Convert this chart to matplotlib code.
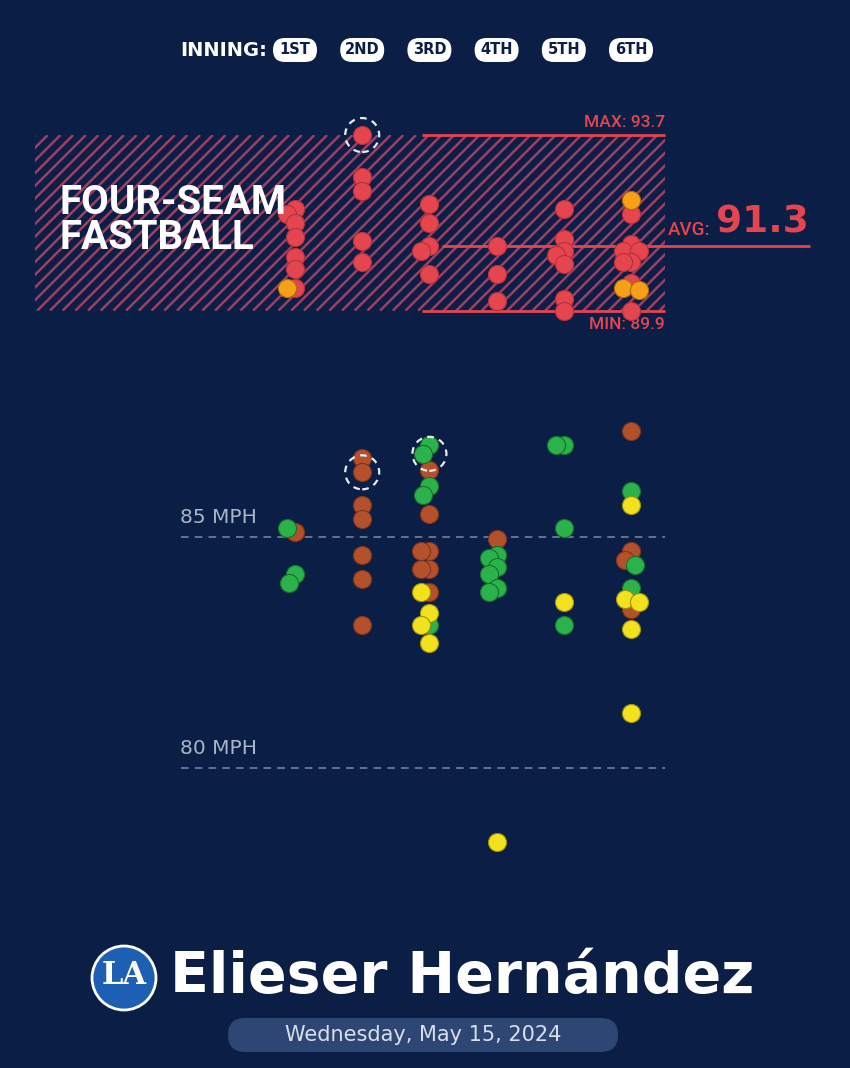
import numpy as np
import matplotlib
matplotlib.use("Agg")
import matplotlib.pyplot as plt
from matplotlib import patches
from matplotlib.transforms import IdentityTransform
from matplotlib.collections import LineCollection

INNING_LABELS = ["1ST", "2ND", "3RD", "4TH", "5TH", "6TH"]

# four-seam fastballs
red_inning = [1, 1, 1, 1, 1, 1, 1,
              2, 2, 2, 2, 2,
              3, 3, 3, 3, 3,
              4, 4, 4,
              5, 5, 5, 5, 5, 5, 5,
              6, 6, 6, 6, 6, 6, 6, 6]
red_mph = [92.1, 92.0, 91.8, 91.5, 91.05, 90.8, 90.4,
           93.7, 92.8, 92.5, 91.4, 90.95,
           92.2, 91.8, 91.3, 91.2, 90.7,
           91.3, 90.7, 90.1,
           92.1, 91.45, 91.2, 91.1, 90.9, 90.15, 89.9,
           92.0, 91.35, 91.2, 91.2, 90.95, 90.95, 90.5, 89.9]

orange_inning = [1, 6, 6, 6]
orange_mph = [90.4, 92.3, 90.4, 90.35]

# other pitches
brown_inning = [1,
                2, 2, 2, 2, 2, 2, 2,
                3, 3, 3, 3, 3, 3, 3,
                4,
                6, 6, 6, 6]
brown_mph = [85.1,
             86.7, 86.4, 85.7, 85.4, 84.6, 84.1, 83.1,
             86.45, 85.5, 84.7, 84.7, 84.3, 84.3, 83.8,
             84.95,
             87.3, 84.7, 84.5, 83.45]

green_inning = [1, 1, 1,
                3, 3, 3, 3, 3,
                4, 4, 4, 4, 4, 4,
                5, 5, 5, 5,
                6, 6, 6]
green_mph = [85.2, 84.2, 84.0,
             87.0, 86.8, 86.1, 85.9, 83.1,
             84.6, 84.55, 84.35, 84.2, 83.9, 83.8,
             87.0, 87.0, 85.2, 83.1,
             86.0, 84.4, 83.9]

yellow_inning = [3, 3, 3, 3,
                 4,
                 5,
                 6, 6, 6, 6, 6]
yellow_mph = [83.8, 83.35, 83.1, 82.7,
              78.4,
              83.6,
              85.7, 83.65, 83.6, 83.0, 81.2]

ff_max = 93.7
ff_min = 89.9
ff_avg = 91.3

# highlighted pitches (inning, mph)
hl_inning = [2, 2, 3]
hl_mph = [93.7, 86.4, 86.8]

ref_lines = [85, 80]

# colours
BG = "#0b1e45"
RED = "#e5454f"
HATCH = "#c4476a"
GRID = "#7d8aa5"
LABEL = "#aab4c8"

W, H = 850, 1068
fig = plt.figure(figsize=(W / 100, H / 100), dpi=100)
fig.patch.set_facecolor(BG)
ax = fig.add_axes([0, 0, 1, 1])
ax.set_facecolor(BG)
ax.axis("off")

# scale: inning 1 at x=295px, 67.2px per inning; 85 mph at y=537px, 46.2px per mph
PX_INN, PX_MPH = 67.2, 46.2
ax.set_xlim(1 - 295 / PX_INN, 1 + (W - 295) / PX_INN)
ax.set_ylim(85 - (H - 537) / PX_MPH, 85 + 537 / PX_MPH)

disp = IdentityTransform()


def xd(px):
    # pixel x -> data x
    return 1 + (px - 295) / PX_INN


def top(y):
    # pixel from top -> display y
    return H - y


def swarm(innings, mphs, min_sep=11.0, step=2.0, max_off=9.0):
    # simple dodge so circles in the same inning do not sit on top of each other
    innings = np.asarray(innings)
    mphs = np.asarray(mphs, dtype=float)
    offs = np.zeros(len(mphs))
    for inn in np.unique(innings):
        idx = np.where(innings == inn)[0]
        placed = []
        for i in idx:
            y = mphs[i] * PX_MPH
            cands = [0.0]
            k = 1
            while k * step <= max_off:
                cands += [-k * step, k * step]
                k += 1
            best, best_d = 0.0, -1
            for dx in cands:
                d = min([np.hypot(dx - px, y - py) for px, py in placed] or [1e9])
                if d >= min_sep:
                    best = dx
                    break
                if d > best_d:
                    best, best_d = dx, d
            placed.append((best, y))
            offs[i] = best / PX_INN
    return innings + offs


# hatched fastball band
band_l, band_r = xd(35), xd(665)
band = patches.Rectangle((band_l, ff_min), band_r - band_l, ff_max - ff_min,
                         facecolor="none", edgecolor="none", zorder=1)
ax.add_patch(band)
y_lo = ax.transData.transform((0, ff_min))[1]
y_hi = ax.transData.transform((0, ff_max))[1]
hh = y_hi - y_lo
segs = [[(c, y_lo), (c + hh, y_hi)] for c in np.arange(35 - hh, 665 + 13, 12.7)]
hatch = LineCollection(segs, colors=HATCH, linewidths=1.8, alpha=0.8,
                       transform=disp, zorder=1)
ax.add_collection(hatch, autolim=False)
hatch.set_clip_path(band)

# max / min / avg lines
ax.hlines([ff_max, ff_min], xd(422), xd(665), color=RED, lw=2, zorder=2)
ax.hlines(ff_avg, xd(442), xd(810), color=RED, lw=2, zorder=2)
ax.text(xd(665), ff_max + 0.1, f"MAX: {ff_max}", color=RED, fontsize=12.5,
        fontfamily="Roboto", fontweight="medium", ha="right", va="bottom", zorder=3)
ax.text(xd(665), ff_min - 0.14, f"MIN: {ff_min}", color=RED, fontsize=12.5,
        fontfamily="Roboto", fontweight="medium", ha="right", va="top", zorder=3)
ax.text(xd(668), ff_avg + 0.14, "AVG:", color=RED, fontsize=13.5,
        fontfamily="Roboto", fontweight="medium", ha="left", va="bottom", zorder=3)
ax.text(xd(716), ff_avg + 0.12, f"{ff_avg}", color=RED, fontsize=27,
        fontfamily="DejaVu Sans", fontweight="bold", ha="left", va="bottom", zorder=3)

fig.text(60, top(203), "FOUR-SEAM", color="white", fontsize=29, fontfamily="Roboto",
         fontweight="bold", ha="left", va="center", transform=disp, zorder=2)
fig.text(60, top(238), "FASTBALL", color="white", fontsize=29, fontfamily="Roboto",
         fontweight="bold", ha="left", va="center", transform=disp, zorder=2)

# reference speed lines
for v in ref_lines:
    ax.hlines(v, xd(181), xd(665), color=GRID, lw=1.1, linestyles=(0, (5, 4)), zorder=1)
    ax.text(xd(180), v + 0.22, f"{v} MPH", color=LABEL, fontsize=14.5,
            fontfamily="DejaVu Sans", ha="left", va="bottom", zorder=1)

# points
S = 170
groups = [
    (red_inning, red_mph, RED, "#b0323c"),
    (orange_inning, orange_mph, "#f6a01a", "#b06e08"),
    (brown_inning, brown_mph, "#b4512c", "#7c341a"),
    (green_inning, green_mph, "#2bb24a", "#17702c"),
    (yellow_inning, yellow_mph, "#f2e11d", "#9c8f0a"),
]
all_inn = np.concatenate([g[0] for g in groups])
all_mph = np.concatenate([g[1] for g in groups])
all_x = swarm(all_inn, all_mph)
start = 0
for inn, mph, fc, ec in groups:
    n = len(mph)
    ax.scatter(all_x[start:start + n], mph, s=S, color=fc, edgecolors=ec,
               linewidths=0.8, zorder=4)
    start += n

# dashed highlight rings
for inn, v in zip(hl_inning, hl_mph):
    ring = patches.Ellipse((inn, v), 34 / PX_INN, 34 / PX_MPH, facecolor="none",
                           edgecolor="#e6ebf3", lw=1.6, linestyle=(0, (3, 2.5)), zorder=5)
    ax.add_patch(ring)

# inning header
fig.text(180, top(50), "INNING:", color="white", fontsize=14, fontfamily="DejaVu Sans",
         fontweight="bold", ha="left", va="center", transform=disp)
for i, lab in enumerate(INNING_LABELS, start=1):
    cx = ax.transData.transform((i, 85))[0]
    pill = patches.FancyBboxPatch((cx - 22, top(50) - 12), 44, 24,
                                  boxstyle="round,pad=0,rounding_size=12",
                                  facecolor="white", edgecolor="none", transform=disp)
    fig.add_artist(pill)
    fig.text(cx, top(50), lab, color=BG, fontsize=10.5, fontfamily="DejaVu Sans",
             fontweight="bold", ha="center", va="center", transform=disp)

# title block
logo = patches.Circle((124, top(978)), 32, facecolor="#1d5fb3", edgecolor="white",
                      lw=2, transform=disp)
fig.add_artist(logo)
fig.text(124, top(976), "LA", color="white", fontsize=22, fontfamily="DejaVu Serif",
         fontweight="bold", ha="center", va="center", transform=disp)
fig.text(170, top(978), "Elieser Hernández", color="white", fontsize=41,
         fontfamily="DejaVu Sans", fontweight="bold", ha="left", va="center",
         transform=disp)
date_box = patches.FancyBboxPatch((228, top(1052)), 390, 34,
                                  boxstyle="round,pad=0,rounding_size=17",
                                  facecolor="#2d4674", edgecolor="none", transform=disp)
fig.add_artist(date_box)
fig.text(423, top(1035), "Wednesday, May 15, 2024", color="#d9dfea", fontsize=15,
         fontfamily="DejaVu Sans", ha="center", va="center", transform=disp)

fig.savefig("out.png", dpi=100, facecolor=BG)
